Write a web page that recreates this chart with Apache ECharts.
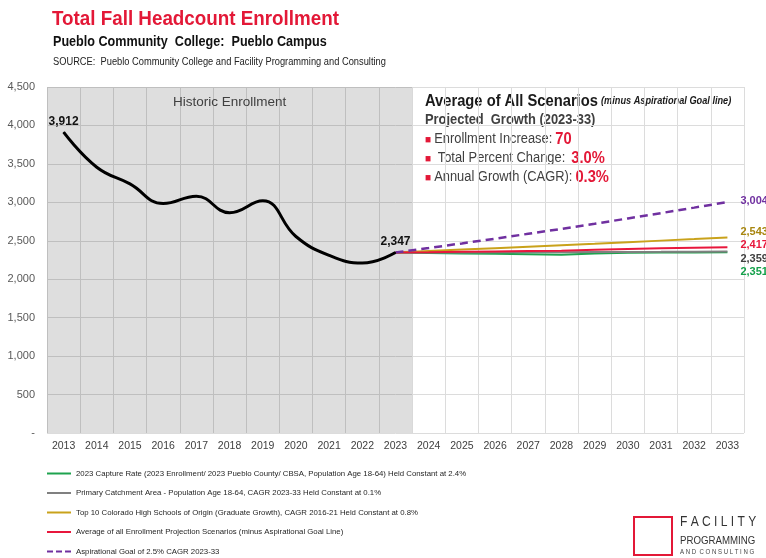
<!DOCTYPE html>
<html>
<head>
<meta charset="utf-8">
<script src="https://cdn.jsdelivr.net/npm/echarts@6/dist/echarts.min.js"></script>
<style>
html, body { margin: 0; padding: 0; background: #fff; }
#main { width: 766px; height: 558px; }
</style>
</head>
<body>
<div id="main"></div>
<script>
"use strict"

var years = ["2013", "2014", "2015", "2016", "2017", "2018", "2019", "2020", "2021", "2022", "2023",
             "2024", "2025", "2026", "2027", "2028", "2029", "2030", "2031", "2032", "2033"];
var historic = [3912, 3457, 3240, 2985, 3080, 2865, 3020, 2556, 2310, 2210, 2347];
// projections 2024-2033
var capture = [2340, 2335, 2330, 2325, 2318, 2335, 2343, 2347, 2349, 2351];
var primary = [2348, 2349, 2350, 2351, 2352, 2353, 2355, 2356, 2358, 2359];
var top10 = [2366, 2385, 2404, 2423, 2443, 2462, 2482, 2502, 2522, 2543];
var average = [2351, 2356, 2361, 2366, 2371, 2383, 2393, 2402, 2410, 2417];
var aspirational = [2406, 2466, 2527, 2591, 2655, 2722, 2790, 2860, 2931, 3004];

var seriesNames = [
    "2023 Capture Rate (2023 Enrollment/ 2023 Pueblo County/ CBSA, Population Age 18-64) Held Constant at 2.4%",
    "Primary Catchment Area - Population Age 18-64, CAGR 2023-33 Held Constant at 0.1%",
    "Top 10 Colorado High Schools of Origin (Graduate Growth), CAGR 2016-21 Held Constant at 0.8%",
    "Average of all Enrollment Projection Scenarios (minus Aspirational Goal Line)",
    "Aspirational Goal of 2.5% CAGR 2023-33"
];
var seriesColors = ["#1ea34f", "#808080", "#c9a21b", "#e8173c", "#7030a0"];
var labelColors = ["#14a04a", "#404040", "#a8860f", "#e8173c", "#7030a0"];
var labelOffsets = [20, 7, -6, -2, -1];

var SANS = "'Liberation Sans', Arial, sans-serif";
var ICON_SOLID = "path://M0,4h24v2h-24z";
var ICON_DASH = "path://M0,4h6v2h-6z M9,4h6v2h-6z M18,4h6v2h-6z";

function fmt(v){
    return v.toLocaleString("en-US");
}

function projSeries(i, values){
    var pad = [];
    for(let k = 0; k < historic.length - 1; k++){
        pad.push("-");
    }
    return {
        name: seriesNames[i],
        type: "line",
        symbol: "none",
        z: 3 + i,
        data: pad.concat([historic[historic.length - 1]], values),
        lineStyle: {
            color: seriesColors[i],
            width: i === 4 ? 2.5 : 2,
            type: i === 4 ? [8, 5] : "solid"
        },
        itemStyle: { color: seriesColors[i] },
        endLabel: {
            show: true,
            distance: 13,
            offset: [0, labelOffsets[i]],
            formatter: function(p){ return fmt(p.value); },
            color: labelColors[i],
            fontFamily: SANS,
            fontWeight: "bold",
            fontSize: 11
        }
    };
}

var legendData = seriesNames.map(function(n, i){
    return { name: n, icon: i === 4 ? ICON_DASH : ICON_SOLID };
});

var chart = echarts.init(document.getElementById("main"));

var option = {
    animation: false,
    backgroundColor: "#fff",
    grid: { left: 47, right: 22, top: 87, bottom: 125 },
    legend: {
        data: legendData,
        orient: "vertical",
        left: 47,
        top: 468,
        padding: 0,
        itemWidth: 24,
        itemHeight: 8,
        itemGap: 8.5,
        textStyle: { fontFamily: SANS, fontSize: 7.8, lineHeight: 11, color: "#262626" }
    },
    xAxis: [
        {
            type: "category",
            data: years,
            boundaryGap: true,
            axisLine: { show: false },
            axisTick: { show: false },
            axisLabel: { color: "#404040", fontFamily: SANS, fontSize: 10.5, margin: 8 },
            splitLine: { show: true, lineStyle: { color: "#dcdcdc", width: 1 } }
        },
        {
            // hidden helper axis so the historic shading covers whole year bands
            type: "value",
            show: false,
            min: -0.5,
            max: years.length - 0.5
        }
    ],
    yAxis: {
        type: "value",
        min: 0,
        max: 4500,
        interval: 500,
        axisLine: { show: false },
        axisTick: { show: false },
        axisLabel: {
            color: "#595959",
            fontFamily: SANS,
            fontSize: 11,
            margin: 12,
            formatter: function(v){ return v === 0 ? "-" : fmt(v); }
        },
        splitLine: { lineStyle: { color: "#dcdcdc", width: 1 } }
    },
    graphic: [
        {
            type: "text", x: 52, y: 9, scaleX: 0.94,
            style: { text: "Total Fall Headcount Enrollment", fill: "#e31837",
                     font: "bold 20px " + SANS }
        },
        {
            type: "text", x: 53, y: 35, scaleX: 0.9,
            style: { text: "Pueblo Community  College:  Pueblo Campus", fill: "#111",
                     font: "bold 14px " + SANS }
        },
        {
            type: "text", x: 53, y: 57, scaleX: 0.93,
            style: { text: "SOURCE:  Pueblo Community College and Facility Programming and Consulting",
                     fill: "#222", font: "10px " + SANS }
        },
        {
            type: "text", x: 425, y: 92, scaleX: 0.92,
            style: {
                text: "{h|Average of All Scenarios} {hi|(minus Aspirational Goal line)}\n" +
                      "{s|Projected  Growth (2023-33)}\n" +
                      "{b|\u25A0} {t|Enrollment Increase:} {v|70}\n" +
                      "{b|\u25A0} {t| Total Percent Change:}  {v|3.0%}\n" +
                      "{b|\u25A0} {t|Annual Growth (CAGR):} {v|0.3%}",
                rich: {
                    h: { font: "bold 16px " + SANS, fill: "#1a1a1a", lineHeight: 19 },
                    hi: { font: "italic bold 10px " + SANS, fill: "#1a1a1a", lineHeight: 19 },
                    s: { font: "bold 14px " + SANS, fill: "#404040", lineHeight: 19 },
                    b: { font: "11px " + SANS, fill: "#e31837", lineHeight: 19 },
                    t: { font: "14px " + SANS, fill: "#404040", lineHeight: 19 },
                    v: { font: "bold 16px " + SANS, fill: "#e31837", lineHeight: 19 }
                }
            }
        },
        {
            type: "rect", shape: { x: 634, y: 517, width: 38, height: 38 },
            style: { fill: "none", stroke: "#e31837", lineWidth: 2 }
        },
        {
            type: "text", x: 680, y: 515, scaleX: 0.86,
            style: { text: "F A C I L I T Y", fill: "#333", font: "14px " + SANS }
        },
        {
            type: "text", x: 680, y: 535, scaleX: 0.88,
            style: { text: "PROGRAMMING", fill: "#333", font: "11px " + SANS }
        },
        {
            type: "text", x: 680, y: 549, scaleX: 0.93,
            style: { text: "A N D  C O N S U L T I N G", fill: "#444", font: "6.5px " + SANS }
        }
    ],
    series: [
        {
            name: "Historic shading",
            type: "line",
            xAxisIndex: 1,
            data: [],
            silent: true,
            z: 1,
            markArea: {
                silent: true,
                itemStyle: { color: "rgba(0,0,0,0.13)" },
                label: {
                    position: "insideTop",
                    distance: 8,
                    color: "#404040",
                    fontFamily: SANS,
                    fontSize: 13.5
                },
                data: [[{ name: "Historic Enrollment", xAxis: -0.5 }, { xAxis: historic.length - 0.5 }]]
            }
        },
        {
            name: "Historic",
            type: "line",
            symbol: "circle",
            symbolSize: 1,
            smooth: 0.45,
            z: 10,
            data: historic,
            lineStyle: { color: "#000", width: 3 },
            itemStyle: { color: "#000" },
            label: {
                show: true,
                position: "top",
                distance: 4,
                color: "#111",
                fontFamily: SANS,
                fontWeight: "bold",
                fontSize: 12,
                formatter: function(p){
                    return (p.dataIndex === 0 || p.dataIndex === historic.length - 1) ? fmt(p.value) : "";
                }
            }
        },
        projSeries(0, capture),
        projSeries(1, primary),
        projSeries(2, top10),
        projSeries(3, average),
        projSeries(4, aspirational)
    ]
};

chart.setOption(option);
</script>
</body>
</html>
